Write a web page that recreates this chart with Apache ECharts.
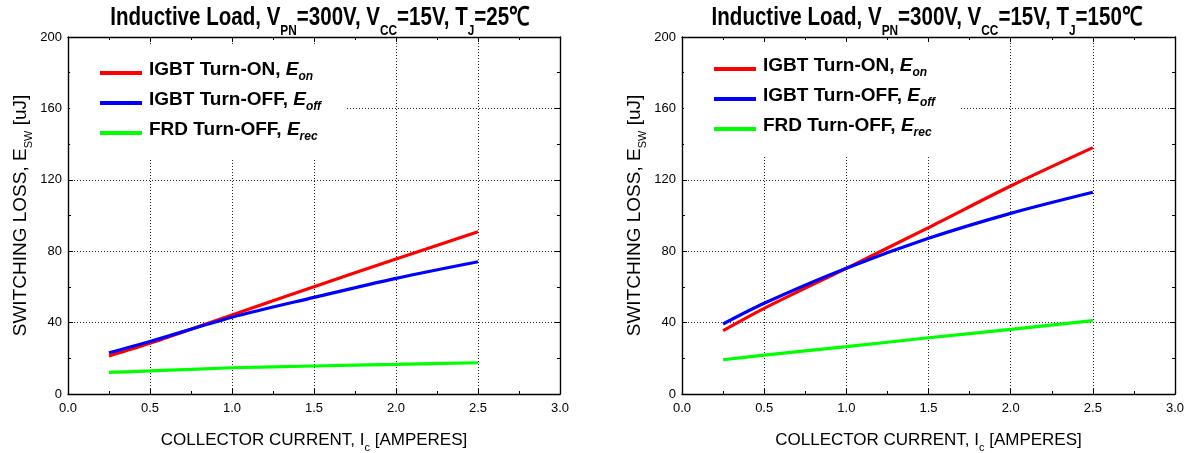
<!DOCTYPE html>
<html>
<head>
<meta charset="utf-8">
<script src="https://cdn.jsdelivr.net/npm/echarts@6/dist/echarts.min.js"></script>
<style>html,body{margin:0;padding:0;background:#fff}#c{width:1190px;height:453px}</style>
</head>
<body>
<div id="c"></div>
<script>
var xCurrent = [0.25, 0.5, 1.0, 1.5, 2.0, 2.5];
var eon25  = [21.3, 28.4, 44.3, 60.1, 75.6, 90.9];
var eoff25 = [23.1, 29.4, 43.0, 54.1, 64.8, 74.1];
var erec25 = [12.1, 12.9, 14.7, 15.7, 16.6, 17.5];
var eon150  = [35.5, 48.0, 70.4, 93.2, 116.5, 138.0];
var eoff150 = [39.2, 50.8, 70.4, 87.2, 101.2, 113.0];
var erec150 = [19.2, 21.8, 26.5, 31.5, 36.2, 41.1];
var xTicks = [0, 3, 0.5];
var yTicks = [0, 200, 40];
var titles = ['25', '150'];

var FONT = '"Liberation Sans", Arial, sans-serif';

function pair(xs, ys) { return xs.map(function (x, i) { return [x, ys[i]]; }); }

var titleRich = {
  m: {fontSize: 26, fontWeight: 'bold', fontFamily: FONT, fill: '#000', verticalAlign: 'bottom', lineHeight: 26, padding: [0, 0, 7, 0]},
  s: {fontSize: 15, fontWeight: 'bold', fontFamily: FONT, fill: '#000', verticalAlign: 'bottom', lineHeight: 15}
};
function titleText(t) {
  return '{m|Inductive Load, V}{s|PN}{m|=300V, V}{s|CC}{m|=15V, T}{s|J}{m|=' + t + '℃}';
}

var legRich = {
  m: {fontSize: 19, fontWeight: 'bold', fontFamily: FONT, color: '#000', verticalAlign: 'bottom', lineHeight: 20, padding: [0, 0, 4, 0]},
  e: {fontSize: 19, fontWeight: 'bold', fontStyle: 'italic', fontFamily: FONT, color: '#000', verticalAlign: 'bottom', lineHeight: 20, padding: [0, 0, 4, 0]},
  s: {fontSize: 12, fontWeight: 'bold', fontStyle: 'italic', fontFamily: FONT, color: '#000', verticalAlign: 'bottom', lineHeight: 12}
};
var legLabels = {
  Eon: '{m|IGBT Turn-ON, }{e|E}{s|on}',
  Eoff: '{m|IGBT Turn-OFF, }{e|E}{s|off}',
  Erec: '{m|FRD Turn-OFF, }{e|E}{s|rec}'
};

function axRich(fs) {
  return {
    m: {fontSize: fs, fontFamily: FONT, color: '#000', verticalAlign: 'bottom', lineHeight: fs + 2, padding: [0, 0, 4, 0]},
    s: {fontSize: 11, fontFamily: FONT, color: '#000', verticalAlign: 'bottom', lineHeight: 11}
  };
}

var grids = [
  {left: 68, top: 37, width: 492, height: 357, outerBoundsMode: 'none', containLabel: false},
  {left: 682, top: 37, width: 493, height: 357, outerBoundsMode: 'none', containLabel: false}
];
var titleX = [320, 927];
var legendTop = [46, 42];

var option = {
  animation: false,
  backgroundColor: '#fff',
  graphic: [],
  legend: [],
  grid: grids,
  xAxis: [],
  yAxis: [],
  series: []
};

var datasets = [[eon25, eoff25, erec25], [eon150, eoff150, erec150]];
var colors = {Eon: '#ff0000', Eoff: '#0000ff', Erec: '#00ff00'};
var names = ['Eon', 'Eoff', 'Erec'];

grids.forEach(function (g, gi) {
  option.graphic.push({
    type: 'text',
    x: titleX[gi],
    y: 12,
    scaleX: 0.79,
    z: 10,
    style: {
      text: titleText(titles[gi]),
      rich: titleRich,
      align: 'center',
      verticalAlign: 'top'
    }
  });
  option.legend.push({
    left: g.left + 2,
    top: legendTop[gi],
    orient: 'vertical',
    itemGap: 7,
    itemWidth: 42,
    itemHeight: 4,
    icon: 'rect',
    backgroundColor: '#fff',
    padding: [14, 24, 16, 30],
    data: names,
    selectedMode: false,
    formatter: function (n) { return legLabels[n]; },
    textStyle: {rich: legRich, padding: [0, 0, 0, 2]}
  });
  var common = {
    gridIndex: gi,
    type: 'value',
    axisLine: {show: true, onZero: false, lineStyle: {color: '#000', width: 1.4}},
    axisTick: {show: true, inside: true, length: 5, lineStyle: {color: '#000'}},
    minorTick: {show: true, splitNumber: 2, length: 3, lineStyle: {color: '#000'}}
  };
  option.xAxis.push(Object.assign({}, common, {
    min: xTicks[0], max: xTicks[1], interval: xTicks[2],
    position: 'bottom',
    axisLabel: {fontSize: 13, fontFamily: FONT, color: '#000', margin: 8, formatter: function (v) { return v.toFixed(1); }},
    splitLine: {show: true, lineStyle: {color: '#222', type: [1, 2], width: 1}},
    name: '{m|COLLECTOR CURRENT, I}{s|c}{m| [AMPERES]}',
    nameLocation: 'middle',
    nameGap: 40,
    nameTextStyle: {rich: axRich(17)}
  }));
  option.xAxis.push(Object.assign({}, common, {
    min: xTicks[0], max: xTicks[1], interval: xTicks[2],
    position: 'top',
    axisLabel: {show: false},
    splitLine: {show: false}
  }));
  option.yAxis.push(Object.assign({}, common, {
    min: yTicks[0], max: yTicks[1], interval: yTicks[2],
    position: 'left',
    axisLabel: {fontSize: 13, fontFamily: FONT, color: '#000', margin: 6},
    splitLine: {show: true, lineStyle: {color: '#222', type: [1, 2], width: 1}},
    name: '{m|SWITCHING LOSS, E}{s|SW}{m| [uJ]}',
    nameLocation: 'middle',
    nameRotate: 90,
    nameGap: 34,
    nameTextStyle: {rich: axRich(19)}
  }));
  option.yAxis.push(Object.assign({}, common, {
    min: yTicks[0], max: yTicks[1], interval: yTicks[2],
    position: 'right',
    axisLabel: {show: false},
    splitLine: {show: false}
  }));
  names.forEach(function (n, si) {
    option.series.push({
      name: n,
      type: 'line',
      xAxisIndex: gi * 2,
      yAxisIndex: gi * 2,
      data: pair(xCurrent, datasets[gi][si]),
      smooth: 0.3,
      showSymbol: false,
      symbol: 'none',
      lineStyle: {color: colors[n], width: 3.2},
      itemStyle: {color: colors[n]},
      z: 3
    });
  });
});

var chart = echarts.init(document.getElementById('c'));
chart.setOption(option);
</script>
</body>
</html>
